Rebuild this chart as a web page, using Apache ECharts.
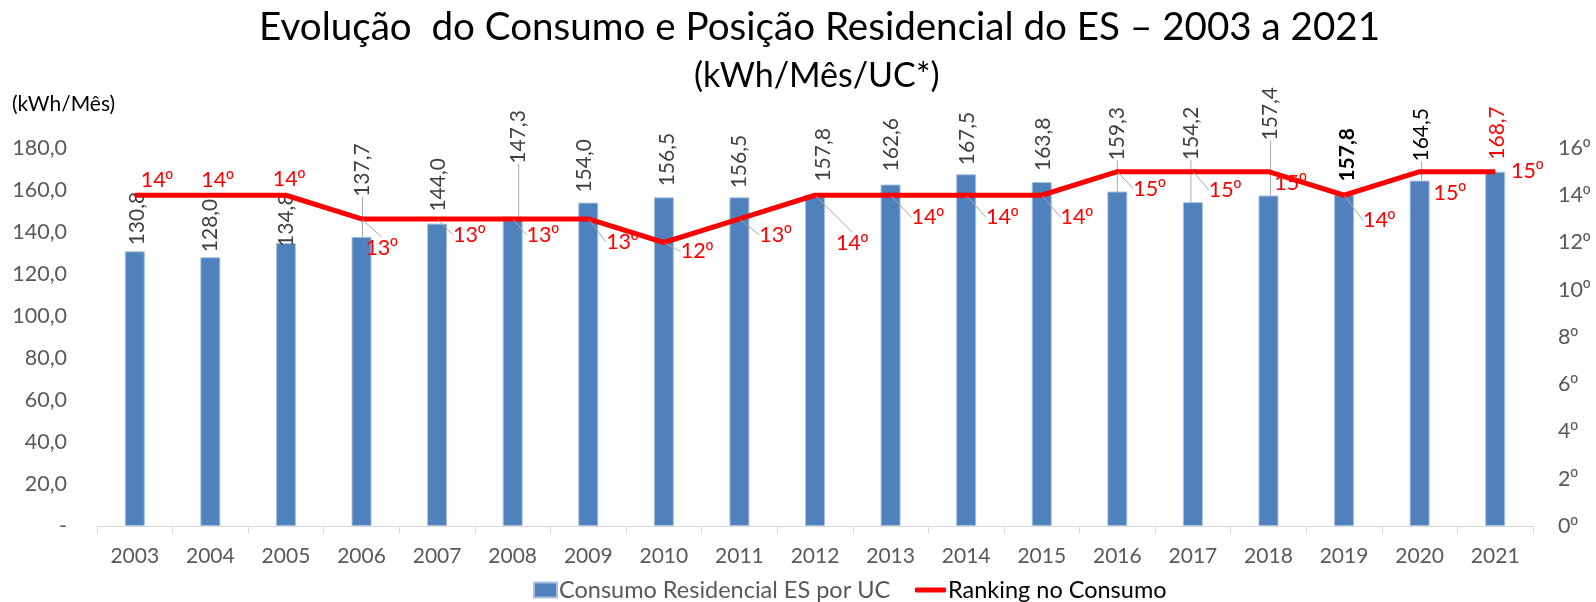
<!DOCTYPE html>
<html>
<head>
<meta charset="utf-8">
<script src="https://cdn.jsdelivr.net/npm/echarts@6/dist/echarts.min.js"></script>
<style>
  html, body { margin: 0; padding: 0; background: #ffffff; }
  #chart { width: 1596px; height: 602px; }
</style>
</head>
<body>
<div id="chart"></div>
<script>
// Residential consumption per consumer unit (kWh/month) and national ranking, Espírito Santo
const years = ['2003', '2004', '2005', '2006', '2007', '2008', '2009', '2010', '2011', '2012',
               '2013', '2014', '2015', '2016', '2017', '2018', '2019', '2020', '2021'];
const consumo = [130.8, 128.0, 134.8, 137.7, 144.0, 147.3, 154.0, 156.5, 156.5, 157.8,
                 162.6, 167.5, 163.8, 159.3, 154.2, 157.4, 157.8, 164.5, 168.7];
const ranking = [14, 14, 14, 13, 13, 13, 13, 12, 13, 14, 14, 14, 14, 15, 15, 15, 14, 15, 15];

const consumoName = 'Consumo Residencial ES por UC';
const rankingName = 'Ranking no Consumo';

// Label placement: value labels lifted above their bars (px), sideways nudge (px)
const barLabelLift = [6, 5, -4, 40, 12, 53, 10, 11, 9, 13, 13, 9, 11, 31, 42, 55, 13, 19, 12];
const barLabelShift = [2, 0, 0, 1, 1, 6, -4, 3, 0, 8, 1, 1, 1, 0, -2, 2, 3, 2, 2];
const barLabelGuide = [3, 5, 13, 14, 15, 17];
// Ranking labels: centre offset from the point (px)
const rankLabelOffset = [[22, -15], [7, -15], [3, -16], [20, 29], [32, 16], [30, 16], [34, 23],
                         [33, 9], [36, 16], [37, 48], [37, 22], [36, 22], [35, 22], [32, 17],
                         [32, 18], [22, 11], [35, 25], [30, 21], [32, -1]];
const rankLabelGuide = [3, 4, 5, 6, 7, 8, 9, 10, 11, 12, 13, 14, 16];

const barLabelColors = { 16: '#000000', 17: '#000000', 18: '#ff0000' };
const FONT = 'Lato, "Open Sans", sans-serif';
const ORD_FONT = '"Liberation Sans", "DejaVu Sans", sans-serif';
const guideStyle = { color: '#a6a6a6', width: 1 };

const barData = consumo.map((v, i) => ({
  value: v,
  label: {
    color: barLabelColors[i] || '#404040',
    fontWeight: i === 16 ? 'bold' : 'normal'
  },
  labelLine: { show: barLabelGuide.includes(i), lineStyle: guideStyle }
}));

const rankData = ranking.map((v, i) => ({
  value: v,
  labelLine: { show: rankLabelGuide.includes(i), lineStyle: guideStyle }
}));

const fmtComma = v => v === 0 ? '-' : v.toFixed(1).replace('.', ',');
// ordinal: digits in the main face, the º sign from a face that draws it underlined
const fmtOrdinal = v => '{n|' + v + '}{o|º}';

const chart = echarts.init(document.getElementById('chart'), null, { renderer: 'canvas' });
chart.setOption({
  backgroundColor: '#ffffff',
  animation: false,
  textStyle: { fontFamily: FONT },
  title: [
    {
      text: 'Evolução  do Consumo e Posição Residencial do ES – 2003 a 2021',
      left: 259, top: 8,
      padding: 0,
      textStyle: { fontFamily: FONT, fontSize: 38.6, fontWeight: 'normal', color: '#000000' }
    },
    {
      text: '(kWh/Mês/UC*)',
      left: 694, top: 59,
      padding: 0,
      textStyle: { fontFamily: FONT, fontSize: 34, fontWeight: 'normal', color: '#000000' }
    },
    {
      text: '(kWh/Mês)',
      left: 12, top: 94,
      padding: 0,
      textStyle: { fontFamily: FONT, fontSize: 21, fontWeight: 'normal', color: '#000000' }
    }
  ],
  legend: [
    {
      data: [{ name: consumoName, icon: 'rect' }],
      left: 533, top: 578, padding: 0,
      itemWidth: 23, itemHeight: 15, itemGap: 0,
      textStyle: { fontFamily: FONT, fontSize: 23.5, color: '#595959', padding: [0, 0, 0, -3] }
    },
    {
      data: [{ name: rankingName, icon: 'roundRect' }],
      left: 915, top: 578, padding: 0,
      itemWidth: 31, itemHeight: 5, itemGap: 0,
      textStyle: { fontFamily: FONT, fontSize: 23.5, color: '#000000', padding: [0, 0, 0, -3] }
    }
  ],
  grid: { left: 97, right: 63, top: 148, bottom: 76 },
  xAxis: {
    type: 'category',
    data: years,
    axisLine: { lineStyle: { color: '#d9d9d9', width: 1 } },
    axisTick: { show: true, length: 8, lineStyle: { color: '#d9d9d9' } },
    axisLabel: { fontFamily: FONT, fontSize: 21, color: '#595959', margin: 20 }
  },
  yAxis: [
    {
      type: 'value', min: 0, max: 180, interval: 20,
      axisLine: { show: false }, axisTick: { show: false },
      splitLine: { show: false },
      axisLabel: { fontFamily: FONT, fontSize: 21.5, color: '#595959', margin: 30, formatter: fmtComma }
    },
    {
      type: 'value', min: 0, max: 16, interval: 2,
      axisLine: { show: false }, axisTick: { show: false },
      splitLine: { show: false },
      axisLabel: {
        fontFamily: FONT, fontSize: 21.5, color: '#595959', margin: 25,
        formatter: fmtOrdinal,
        rich: {
          n: { fontFamily: FONT, fontSize: 21.5, color: '#595959' },
          o: { fontFamily: ORD_FONT, fontSize: 20, color: '#595959' }
        }
      }
    }
  ],
  series: [
    {
      name: consumoName,
      type: 'bar',
      data: barData,
      barWidth: 20,
      itemStyle: { color: '#4f81bd', borderColor: '#a9c1df', borderWidth: 1 },
      label: {
        show: true,
        position: 'top',
        rotate: 90,
        align: 'left',
        verticalAlign: 'middle',
        distance: 0,
        fontFamily: FONT,
        fontSize: 21,
        formatter: p => fmtComma(p.value)
      },
      labelLayout: p => ({
        x: p.rect.x + p.rect.width / 2 + barLabelShift[p.dataIndex],
        y: p.rect.y - barLabelLift[p.dataIndex]
      }),
      z: 2
    },
    {
      name: rankingName,
      type: 'line',
      yAxisIndex: 1,
      data: rankData,
      symbol: 'circle',
      symbolSize: 1,
      itemStyle: { color: '#ff0000' },
      lineStyle: { color: '#ff0000', width: 5 },
      label: {
        show: true,
        position: 'top',
        formatter: p => fmtOrdinal(p.value),
        rich: {
          n: { fontFamily: FONT, fontSize: 21.5, color: '#ff0000' },
          o: { fontFamily: ORD_FONT, fontSize: 20, color: '#ff0000' }
        }
      },
      labelLayout: p => {
        const o = rankLabelOffset[p.dataIndex];
        return {
          x: p.rect.x + p.rect.width / 2 + o[0],
          y: p.rect.y + p.rect.height / 2 + o[1],
          align: 'center',
          verticalAlign: 'middle'
        };
      },
      z: 3
    }
  ]
});
</script>
</body>
</html>
